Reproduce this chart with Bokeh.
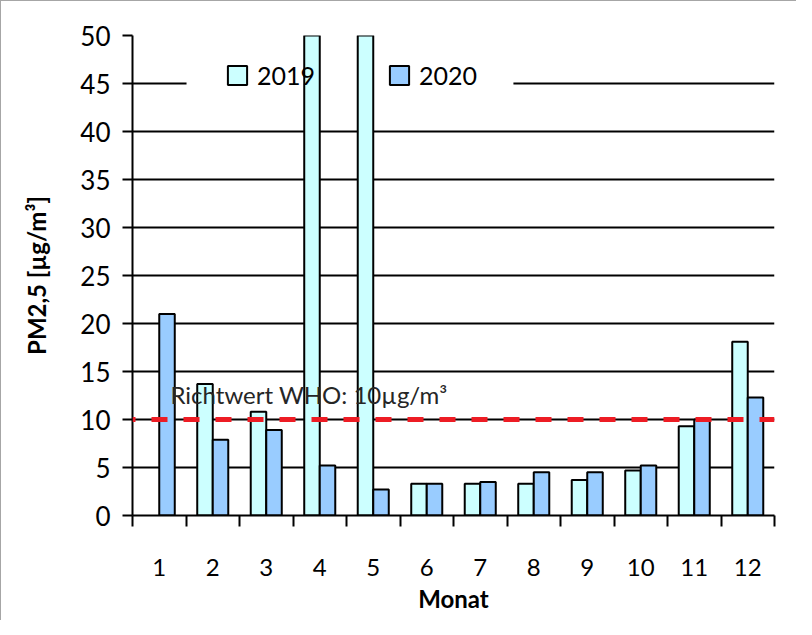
from bokeh.plotting import figure
from bokeh.models import (ColumnDataSource, FixedTicker, Span, Label, BoxAnnotation,
                          Legend, LegendItem)
from bokeh.transform import dodge
from bokeh.embed import file_html
from bokeh.resources import INLINE

months = [1, 2, 3, 4, 5, 6, 7, 8, 9, 10, 11, 12]
pm_2019 = [float("nan"), 13.7, 10.8, 60.0, 60.0, 3.3, 3.3, 3.3, 3.7, 4.7, 9.3, 18.1]
pm_2020 = [21.0, 7.9, 8.9, 5.2, 2.7, 3.3, 3.5, 4.5, 4.5, 5.2, 10.0, 12.3]
y_ticks = [0, 5, 10, 15, 20, 25, 30, 35, 40, 45, 50]
who_limit = 10
who_text = "Richtwert WHO: 10µg/m³"
series_names = ["2019", "2020"]

FONT = "Lato"

src = ColumnDataSource(dict(month=months, y2019=pm_2019, y2020=pm_2020))

p = figure(width=796, height=620, output_backend="svg", toolbar_location=None,
           x_range=(0.5, 12.5), y_range=(0, 50),
           min_border_left=131, min_border_top=34, min_border_right=23,
           min_border_bottom=106)
p.styles = {"border-left": "1px solid #a6a6a6", "border-top": "1px solid #a6a6a6"}
p.outline_line_color = None
p.background_fill_color = "white"
p.border_fill_color = "white"

# grid
p.xgrid.grid_line_color = None
p.ygrid.grid_line_color = "black"
p.ygrid.grid_line_width = 2
p.ygrid.ticker = FixedTicker(ticks=y_ticks)

# legend background box (white, behind bars, over grid)
box = BoxAnnotation(left=1.51, right=7.62, bottom=43.6, top=48.2,
                    fill_color="white", fill_alpha=1, line_color=None, level="underlay")
p.add_layout(box)

w = 0.29
r19 = p.vbar(x=dodge("month", -w / 2), top="y2019", width=w, source=src,
             fill_color="#CCFFFF", line_color="black", line_width=2)
r20 = p.vbar(x=dodge("month", w / 2), top="y2020", width=w, source=src,
             fill_color="#99CCFF", line_color="black", line_width=2)

# axes
xa = p.xaxis[0]
xa.ticker = FixedTicker(ticks=months, minor_ticks=[m - 0.5 for m in months] + [months[-1] + 0.5])
xa.major_tick_line_color = None
xa.major_tick_out = 11
xa.major_tick_in = 0
xa.minor_tick_line_color = "black"
xa.minor_tick_line_width = 2
xa.minor_tick_out = 11
xa.minor_tick_in = 0
xa.axis_line_color = "black"
xa.axis_line_width = 2
xa.major_label_text_font = FONT
xa.major_label_text_font_size = "24px"
xa.major_label_text_color = "black"
xa.major_label_standoff = 32
xa.axis_label = "Monat"
xa.axis_label_text_font = FONT
xa.axis_label_text_font_style = "bold"
xa.axis_label_text_font_size = "24px"
xa.axis_label_text_color = "black"
xa.axis_label_standoff = 5

ya = p.yaxis[0]
ya.ticker = FixedTicker(ticks=y_ticks)
ya.minor_tick_line_color = None
ya.major_tick_line_color = "black"
ya.major_tick_line_width = 2
ya.major_tick_out = 10
ya.major_tick_in = 0
ya.axis_line_color = "black"
ya.axis_line_width = 2
ya.major_label_text_font = FONT
ya.major_label_text_font_size = "26px"
ya.major_label_text_color = "black"
ya.major_label_standoff = 12
ya.axis_label = "PM2,5 [µg/m³]"
ya.axis_label_text_font = FONT
ya.axis_label_text_font_style = "bold"
ya.axis_label_text_font_size = "24px"
ya.axis_label_text_color = "black"
ya.axis_label_standoff = 26

# legend
legend = Legend(items=[LegendItem(label=series_names[0], renderers=[r19]),
                       LegendItem(label=series_names[1], renderers=[r20])],
                orientation="horizontal", location=(93, 425),
                padding=0, margin=0, spacing=72, label_standoff=8,
                glyph_width=24, glyph_height=24,
                label_text_font=FONT, label_text_font_size="25px",
                label_text_color="black",
                background_fill_alpha=0, border_line_color=None, level="underlay")
p.add_layout(legend)

# WHO reference line
span = Span(location=who_limit, dimension="width", line_color="#ED1C24",
            line_width=5, line_dash="16 16", line_dash_offset=13)
p.add_layout(span)

lbl = Label(x=1.21, y=12.6, text=who_text, text_font=FONT, text_font_size="24px",
            text_color="#262626", text_baseline="alphabetic")
p.add_layout(lbl)

open("out.html", "w").write(file_html(p, INLINE))
